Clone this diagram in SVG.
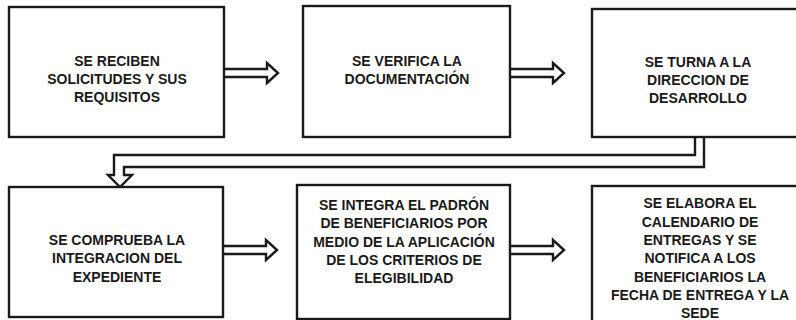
<svg xmlns="http://www.w3.org/2000/svg" width="796" height="320" viewBox="0 0 796 320">
<style>
.box{fill:#fff;stroke:#1a1a1a;stroke-width:2.4}
.t{font-family:"Liberation Sans",Arial,sans-serif;font-weight:bold;font-size:14px;fill:#1a1a1a;text-anchor:middle}
.arr{fill:#fff;stroke:#1a1a1a;stroke-width:2.4;stroke-linejoin:miter}
</style>
<rect width="796" height="320" fill="#fff"/>
<g id="connectors">
<path class="arr" d="M224,69 H267 V63 L278,73 L267,83 V77 H224"/>
<path class="arr" d="M510,69 H553 V63 L564,73 L553,83 V77 H510"/>
<path class="arr" d="M223,246 H266 V240 L277,250 L266,260 V254 H223"/>
<path class="arr" d="M510,246 H553 V240 L564,250 L553,260 V254 H510"/>
<path class="arr" d="M695,137 V155 H114 V175 H108 L120,187 L132,175 H124 V167 H704 V137"/>
</g>
<g id="n1">
<rect class="box" x="9" y="7" width="215" height="130"/>
<text class="t" x="117" y="66">SE RECIBEN</text>
<text class="t" x="117" y="84">SOLICITUDES Y SUS</text>
<text class="t" x="117" y="102">REQUISITOS</text>
</g>
<g id="n2">
<rect class="box" x="303" y="6" width="207" height="131"/>
<text class="t" x="407" y="66">SE VERIFICA LA</text>
<text class="t" x="407" y="84">DOCUMENTACIÓN</text>
</g>
<g id="n3">
<rect class="box" x="592" y="9" width="214" height="128"/>
<text class="t" x="698" y="67">SE TURNA A LA</text>
<text class="t" x="698" y="85">DIRECCION DE</text>
<text class="t" x="698" y="103">DESARROLLO</text>
</g>
<g id="n4">
<rect class="box" x="9" y="187" width="214" height="130"/>
<text class="t" x="117" y="245">SE COMPRUEBA LA</text>
<text class="t" x="117" y="263">INTEGRACION DEL</text>
<text class="t" x="117" y="282">EXPEDIENTE</text>
</g>
<g id="n5">
<rect class="box" x="297" y="185" width="213" height="134"/>
<text class="t" x="404" y="210">SE INTEGRA EL PADRÓN</text>
<text class="t" x="404" y="228">DE BENEFICIARIOS POR</text>
<text class="t" x="404" y="247">MEDIO DE LA APLICACIÓN</text>
<text class="t" x="404" y="265">DE LOS CRITERIOS DE</text>
<text class="t" x="404" y="283">ELEGIBILIDAD</text>
</g>
<g id="n6">
<rect class="box" x="592" y="186" width="214" height="140"/>
<text class="t" x="700" y="208">SE ELABORA EL</text>
<text class="t" x="700" y="227">CALENDARIO DE</text>
<text class="t" x="700" y="245">ENTREGAS Y SE</text>
<text class="t" x="700" y="263">NOTIFICA A LOS</text>
<text class="t" x="700" y="282">BENEFICIARIOS LA</text>
<text class="t" x="700" y="300">FECHA DE ENTREGA Y LA</text>
<text class="t" x="700" y="318">SEDE</text>
</g>
</svg>
